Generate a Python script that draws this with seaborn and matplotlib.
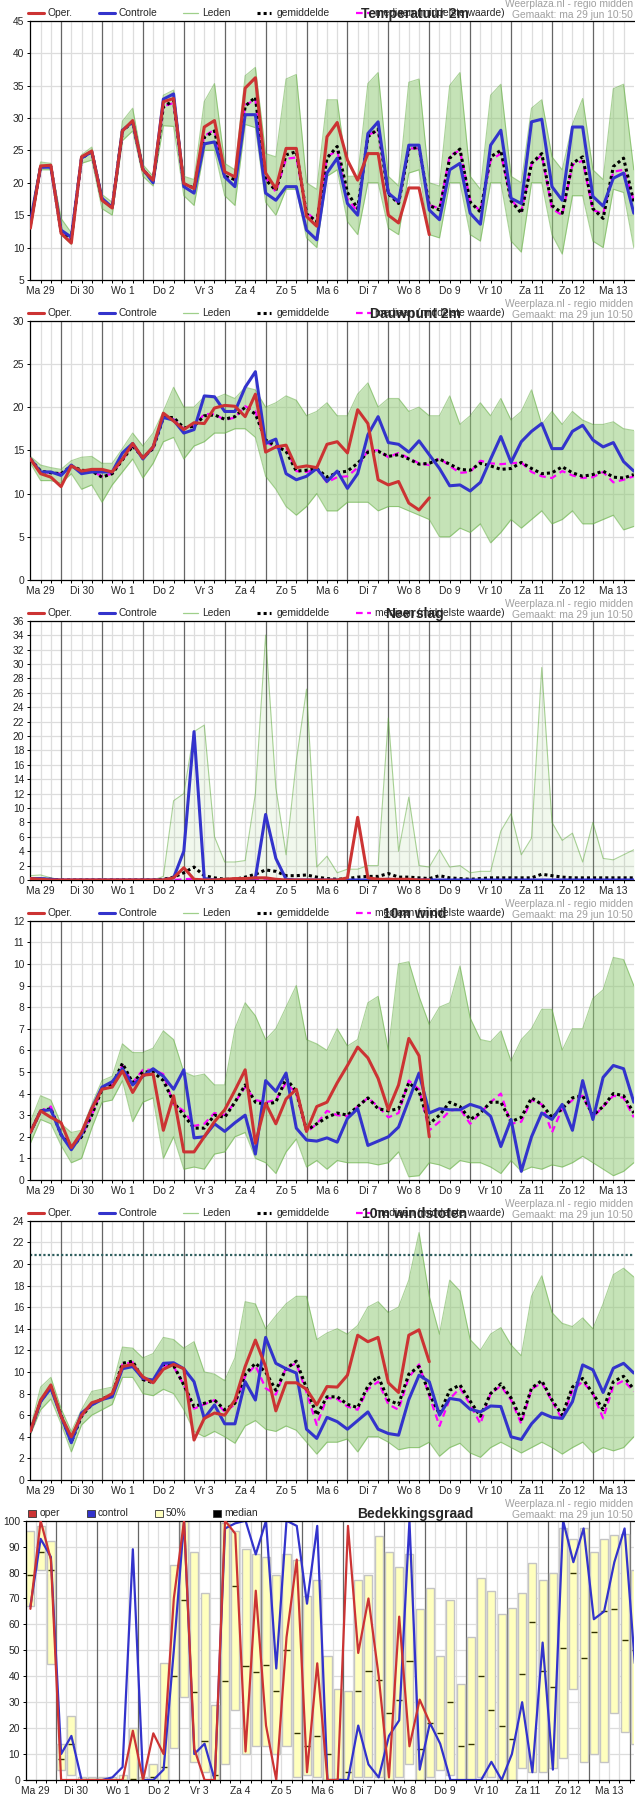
import numpy as np
import matplotlib
matplotlib.use("Agg")
import matplotlib.pyplot as plt
from matplotlib.lines import Line2D
from matplotlib.patches import Rectangle
import seaborn as sns

sns.set_style("white")
plt.rcParams['font.family'] = ['Liberation Sans', 'DejaVu Sans']

# --- data -------------------------------------------------------------
dagen = ["Ma 29", "Di 30", "Wo 1", "Do 2", "Vr 3", "Za 4", "Zo 5", "Ma 6",
         "Di 7", "Wo 8", "Do 9", "Vr 10", "Za 11", "Zo 12", "Ma 13"]

# temperatuur 2m (6-uurlijks, vanaf ma 29 06u)
temp_oper = [13.0, 22.6, 22.7, 12.2, 10.7, 24.0, 24.9, 17.3, 16.1, 28.0,
             29.6, 22.0, 20.4, 32.5, 33.0, 19.9, 19.1, 28.6, 29.6, 21.7,
             20.9, 34.6, 36.2, 21.5, 19.1, 25.3, 25.3, 14.8, 13.3, 27.1,
             29.3, 23.5, 20.4, 24.5, 24.5, 15.0, 13.8, 19.2, 19.2, 12.0]
temp_ctrl = [14.0, 22.4, 22.4, 12.7, 11.6, 23.8, 24.8, 17.6, 16.2, 28.1,
             29.4, 22.1, 20.0, 32.9, 33.7, 19.4, 18.4, 26.0, 26.3, 20.9,
             19.4, 30.5, 30.5, 18.4, 17.3, 19.4, 19.4, 12.7, 11.2, 21.5,
             23.8, 16.8, 15.0, 27.6, 29.4, 18.4, 17.1, 25.8, 25.8, 15.8,
             14.3, 22.0, 23.0, 15.3, 13.6, 25.8, 28.1, 17.6, 16.8, 29.4,
             29.8, 19.4, 17.3, 28.6, 28.6, 17.9, 16.4, 20.7, 21.5, 15.3]
temp_gem = [13.5, 22.5, 22.5, 12.5, 11.3, 23.8, 24.8, 17.4, 16.2, 28.0,
            29.4, 22.0, 20.3, 31.7, 32.7, 19.8, 19.2, 27.0, 28.0, 21.0,
            20.5, 31.8, 33.2, 20.5, 18.8, 24.3, 24.8, 15.2, 14.0, 23.8,
            25.6, 18.5, 16.0, 27.1, 28.3, 18.3, 16.8, 25.2, 25.5, 16.5,
            15.8, 23.8, 25.2, 17.0, 15.5, 24.0, 25.0, 17.2, 15.3, 23.0,
            24.5, 16.5, 15.3, 23.0, 24.0, 16.0, 14.5, 22.5, 23.8, 17.0]
temp_med = [13.5, 22.4, 22.4, 12.5, 11.3, 23.8, 24.8, 17.4, 16.2, 28.0,
            29.4, 22.0, 20.5, 31.8, 32.3, 19.8, 19.2, 27.2, 28.2, 21.0,
            20.4, 32.0, 32.8, 20.8, 18.6, 23.7, 23.9, 15.5, 14.0, 24.0,
            25.0, 17.5, 15.6, 27.4, 28.0, 18.6, 16.8, 25.3, 25.3, 16.6,
            16.0, 24.2, 25.0, 17.2, 15.6, 23.5, 24.5, 17.4, 15.6, 22.8,
            24.3, 16.0, 15.0, 22.8, 23.4, 15.8, 15.2, 21.7, 22.0, 17.3]
temp_hoog = [15.0, 23.2, 23.0, 14.5, 12.3, 24.3, 25.5, 18.2, 17.0, 29.5,
             31.5, 22.8, 21.0, 33.5, 34.3, 21.0, 20.5, 32.5, 35.3, 23.0,
             22.0, 36.5, 37.8, 24.5, 24.0, 36.0, 36.7, 20.0, 19.0, 32.8,
             32.8, 21.0, 21.0, 35.3, 37.0, 21.0, 19.5, 35.5, 36.0, 20.0,
             19.5, 35.0, 37.0, 21.0, 19.0, 33.5, 35.2, 21.0, 20.0, 31.5,
             32.8, 24.0, 22.0, 29.0, 33.0, 22.0, 20.5, 34.5, 35.2, 22.0]
temp_laag = [13.0, 22.0, 22.0, 12.0, 10.5, 23.0, 23.5, 16.0, 15.0, 26.5,
             28.0, 21.0, 19.5, 28.8, 28.7, 18.0, 16.5, 25.0, 25.0, 18.0,
             16.5, 29.0, 28.5, 17.0, 15.0, 19.0, 19.0, 11.5, 10.0, 21.0,
             22.0, 14.0, 12.0, 20.0, 20.0, 13.0, 12.0, 21.5, 22.0, 12.0,
             11.5, 20.0, 20.0, 12.0, 11.0, 20.0, 20.0, 11.0, 9.3, 20.0,
             20.0, 12.0, 9.0, 18.0, 18.0, 11.0, 10.0, 19.0, 18.5, 10.0]

# dauwpunt 2m
dauw_oper = [14.0, 12.3, 11.9, 10.8, 13.2, 12.6, 12.8, 12.8, 12.5, 14.0,
             15.8, 14.1, 15.4, 19.3, 18.4, 17.4, 18.2, 18.1, 19.9, 20.2,
             20.1, 18.9, 21.5, 14.8, 15.4, 15.6, 13.0, 13.2, 13.0, 15.7,
             16.0, 14.7, 19.7, 18.1, 11.6, 11.0, 11.4, 8.9, 8.1, 9.5]
dauw_ctrl = [14.0, 12.5, 12.5, 12.1, 13.3, 12.3, 12.5, 12.5, 12.5, 14.7,
             15.8, 14.0, 15.4, 18.8, 18.5, 17.0, 17.4, 21.3, 21.2, 19.5,
             19.5, 22.3, 24.1, 15.8, 16.3, 12.3, 11.6, 12.0, 12.9, 11.4,
             12.6, 10.6, 12.3, 16.8, 18.9, 15.9, 15.7, 14.8, 16.1, 14.5,
             12.9, 10.9, 11.0, 10.3, 11.3, 14.0, 16.6, 13.6, 16.0, 17.2,
             18.1, 15.2, 15.2, 17.2, 17.9, 16.2, 15.4, 15.9, 13.7, 12.6]
dauw_gem = [14.0, 12.6, 12.4, 12.3, 13.2, 12.7, 12.6, 11.9, 12.3, 13.9,
            15.5, 14.2, 15.2, 18.8, 18.8, 17.6, 17.8, 19.0, 19.1, 18.6,
            18.9, 20.0, 19.2, 16.2, 15.5, 14.9, 12.6, 12.7, 12.9, 11.9,
            12.4, 12.6, 13.5, 14.8, 14.9, 14.3, 14.5, 14.0, 13.4, 13.5,
            14.0, 13.4, 12.8, 12.7, 13.5, 13.2, 12.8, 12.9, 13.6, 12.9,
            12.3, 12.4, 13.1, 12.4, 12.0, 12.2, 12.6, 11.9, 11.8, 12.2]
dauw_med = [14.0, 12.5, 12.4, 12.3, 13.2, 12.5, 12.6, 12.0, 12.3, 13.9,
            15.5, 14.2, 15.2, 18.9, 18.6, 17.5, 17.8, 19.2, 19.2, 18.5,
            18.8, 20.1, 19.5, 16.0, 15.3, 15.3, 12.6, 12.5, 12.8, 11.3,
            11.9, 12.0, 13.0, 15.0, 15.0, 14.2, 14.7, 14.1, 13.5, 13.3,
            14.1, 13.2, 12.4, 12.5, 13.8, 13.5, 13.4, 13.5, 13.6, 12.5,
            12.0, 11.8, 12.6, 12.1, 11.8, 11.9, 12.5, 11.3, 11.6, 12.0]
dauw_hoog = [14.3, 13.3, 13.0, 12.8, 13.8, 14.2, 14.3, 13.5, 13.5, 15.2,
             17.0, 15.5, 17.0, 19.5, 22.3, 20.0, 20.0, 21.2, 21.0, 21.5,
             21.0, 22.3, 22.0, 20.0, 20.5, 21.3, 20.8, 19.0, 19.5, 20.5,
             19.0, 19.0, 21.5, 22.8, 20.0, 21.0, 21.0, 19.5, 20.0, 19.0,
             19.0, 21.3, 18.0, 19.0, 20.5, 19.0, 21.0, 18.5, 19.5, 22.0,
             18.0, 19.5, 18.0, 19.5, 18.5, 18.0, 18.0, 18.3, 17.5, 17.3]
dauw_laag = [13.5, 11.5, 11.5, 11.2, 12.3, 10.5, 11.0, 9.0, 11.0, 12.5,
             14.0, 11.8, 13.5, 16.0, 16.5, 14.0, 15.5, 16.0, 17.0, 17.0,
             17.5, 17.5, 16.5, 12.0, 10.5, 8.5, 7.5, 8.5, 10.0, 8.0,
             8.0, 9.0, 9.0, 9.0, 8.0, 8.5, 8.5, 8.0, 7.5, 7.0,
             5.0, 5.0, 6.0, 5.5, 6.5, 4.3, 5.5, 7.0, 6.0, 7.0,
             8.0, 6.5, 7.0, 8.0, 6.5, 6.5, 7.0, 7.5, 5.8, 6.2]

# neerslag (mm per 6 uur)
regen_oper = [0.2, 0.1, 0, 0, 0, 0, 0, 0, 0, 0,
              0, 0, 0, 0, 0.3, 1.7, 0.1, 0, 0, 0.1,
              0.2, 0.2, 0.3, 0.3, 0.1, 0, 0, 0, 0, 0,
              0, 0.3, 8.7, 0.3, 0.1, 0.1, 0.1, 0.1, 0, 0]
regen_ctrl = [0.2, 0.2, 0.1, 0, 0, 0, 0, 0, 0, 0,
              0, 0, 0, 0, 0.3, 4.0, 20.6, 0.2, 0, 0,
              0, 0, 0.3, 9.1, 3.0, 0.1, 0, 0, 0, 0,
              0, 0, 0, 0, 0, 0.1, 0, 0, 0, 0,
              0, 0, 0, 0, 0, 0, 0, 0, 0, 0,
              0, 0, 0, 0, 0, 0, 0, 0, 0, 0]
regen_gem = [0.1, 0.1, 0.1, 0, 0, 0, 0, 0, 0, 0,
             0, 0, 0, 0.1, 0.4, 1.0, 1.8, 0.6, 0.3, 0.1,
             0.1, 0.4, 0.8, 1.4, 1.2, 0.6, 0.6, 0.7, 0.4, 0.2,
             0.1, 0.2, 0.4, 0.5, 0.5, 0.9, 0.4, 0.4, 0.3, 0.2,
             0.6, 0.3, 0.2, 0.1, 0.2, 0.3, 0.3, 0.3, 0.3, 0.3,
             0.8, 0.6, 0.4, 0.3, 0.3, 0.3, 0.3, 0.3, 0.3, 0.3]
regen_med = [0.1, 0.1, 0, 0, 0, 0, 0, 0, 0, 0,
             0, 0, 0, 0, 0, 0.1, 0.2, 0, 0, 0,
             0, 0, 0.1, 0.2, 0.1, 0, 0, 0, 0, 0,
             0, 0, 0, 0, 0, 0, 0, 0, 0, 0,
             0, 0, 0, 0, 0, 0, 0, 0, 0, 0,
             0, 0, 0, 0, 0, 0, 0, 0, 0, 0]
regen_hoog = [0.6, 0.7, 0.3, 0, 0, 0, 0, 0, 0, 0,
              0, 0, 0, 0.5, 11.0, 12.0, 20.6, 21.5, 6.0, 2.5,
              2.5, 2.7, 12.0, 34.0, 12.8, 3.5, 16.5, 26.5, 1.8, 3.3,
              1.0, 1.5, 1.5, 2.0, 2.0, 22.5, 4.0, 11.5, 2.0, 1.8,
              4.2, 1.8, 2.0, 1.0, 1.2, 1.2, 6.8, 9.2, 3.5, 5.8,
              29.5, 8.0, 5.5, 6.5, 2.5, 8.0, 3.0, 2.8, 3.5, 4.2]
regen_laag = [0.0] * 60

# 10m wind (Bft)
wind_oper = [2.2, 3.2, 2.9, 2.65, 1.5, 2.2, 3.3, 4.2, 4.3, 5.05,
             4.05, 4.85, 4.9, 2.3, 3.9, 1.3, 1.3, 2.0, 2.7, 3.25,
             4.15, 5.1, 1.7, 3.55, 2.6, 3.75, 4.2, 2.25, 3.4, 3.6,
             4.5, 5.3, 6.15, 5.65, 4.7, 3.25, 4.4, 6.55, 5.75, 2.0]
wind_ctrl = [2.2, 3.2, 3.25, 2.1, 1.4, 2.1, 3.3, 4.3, 4.55, 5.15,
             4.4, 4.8, 5.15, 4.8, 4.2, 5.1, 1.95, 2.0, 2.6, 2.25,
             2.65, 3.0, 1.2, 4.6, 4.1, 4.95, 2.4, 1.85, 1.8, 1.95,
             1.75, 2.85, 3.3, 1.6, 1.8, 2.0, 2.45, 3.7, 4.95, 3.1,
             3.3, 3.25, 3.25, 3.5, 3.35, 2.95, 1.55, 2.8, 0.4, 2.0,
             3.1, 2.8, 3.5, 2.3, 4.6, 2.8, 4.75, 5.3, 5.15, 3.6]
wind_gem = [2.2, 3.2, 3.3, 2.1, 1.5, 2.0, 3.0, 4.2, 4.4, 5.4,
            4.5, 5.0, 5.0, 4.6, 3.6, 3.0, 2.4, 2.4, 3.0, 2.9,
            3.6, 4.4, 3.6, 3.5, 3.6, 4.7, 4.1, 2.3, 2.6, 2.9,
            3.1, 3.0, 3.4, 3.8, 3.3, 3.2, 3.3, 4.5, 4.1, 2.6,
            3.0, 3.6, 3.4, 2.8, 3.1, 3.6, 3.6, 2.7, 2.9, 3.8,
            3.5, 2.9, 3.3, 3.8, 3.9, 3.0, 3.4, 4.0, 3.9, 3.1]
wind_med = [2.2, 3.2, 3.4, 2.1, 1.5, 2.0, 3.0, 4.2, 4.4, 5.3,
            4.5, 5.1, 5.1, 4.9, 3.5, 3.2, 2.5, 2.6, 3.1, 3.0,
            3.6, 4.3, 3.7, 3.6, 3.7, 4.5, 4.0, 2.2, 2.6, 3.2,
            3.0, 2.95, 3.4, 3.8, 3.4, 2.9, 3.1, 4.6, 4.2, 2.3,
            2.7, 3.2, 3.3, 2.6, 3.1, 3.6, 4.0, 2.6, 2.7, 3.7,
            3.5, 2.2, 3.3, 3.7, 3.9, 2.9, 3.4, 3.9, 3.8, 2.9]
wind_hoog = [2.7, 3.9, 3.7, 2.6, 2.2, 2.3, 3.5, 4.6, 4.8, 6.3,
             5.9, 5.9, 6.1, 6.9, 6.5, 5.0, 4.8, 4.9, 4.4, 4.4,
             7.0, 8.2, 7.6, 6.5, 7.0, 8.0, 9.0, 6.5, 6.3, 6.0,
             7.0, 6.2, 6.5, 8.2, 8.5, 6.0, 10.0, 10.1, 8.5, 7.2,
             8.0, 8.2, 9.9, 7.5, 6.5, 6.4, 6.9, 5.5, 6.5, 7.0,
             7.9, 7.9, 6.0, 7.0, 7.0, 8.4, 8.8, 10.3, 10.2, 9.0]
wind_laag = [1.7, 2.8, 2.6, 1.6, 0.8, 1.0, 2.4, 3.6, 3.7, 4.6,
             2.7, 3.6, 3.8, 1.0, 2.0, 0.5, 0.6, 0.5, 1.2, 1.3,
             2.0, 2.2, 1.0, 0.8, 0.3, 1.3, 1.9, 0.6, 0.9, 0.5,
             0.9, 0.8, 0.8, 0.8, 0.7, 0.8, 1.3, 0.15, 0.2, 0.8,
             0.7, 0.5, 0.9, 0.8, 0.8, 0.6, 0.3, 0.9, 0.4, 0.6,
             0.5, 0.7, 0.6, 0.8, 1.1, 0.8, 0.5, 0.2, 0.4, 0.8]

# 10m windstoten (m/s)
stoot_oper = [4.5, 7.4, 8.8, 5.9, 4.0, 6.0, 7.15, 7.45, 8.0, 10.5,
              10.7, 9.55, 9.0, 10.25, 10.7, 10.3, 3.7, 5.7, 6.2, 6.0,
              7.4, 10.5, 12.95, 10.5, 6.4, 9.0, 9.0, 8.4, 6.95, 8.65,
              8.6, 9.7, 13.4, 12.8, 13.2, 9.0, 8.1, 13.4, 13.9, 10.95]
stoot_ctrl = [4.5, 7.25, 8.5, 5.9, 3.45, 6.2, 6.95, 7.45, 7.7, 10.3,
              10.5, 9.4, 9.25, 10.8, 10.85, 10.3, 9.1, 5.7, 6.95, 5.2,
              5.2, 9.1, 7.4, 13.2, 10.8, 10.3, 9.9, 4.7, 3.85, 5.8,
              5.4, 4.7, 5.5, 6.3, 4.7, 4.3, 4.15, 7.45, 9.7, 9.1,
              6.0, 7.55, 7.4, 6.55, 6.3, 6.85, 6.8, 4.0, 3.75, 5.2,
              6.2, 5.8, 5.7, 7.25, 10.65, 10.2, 8.1, 10.35, 10.8, 9.9]
stoot_gem = [4.5, 7.3, 8.6, 6.0, 3.5, 5.9, 7.0, 7.5, 7.9, 10.8,
             11.0, 9.3, 9.0, 10.7, 10.6, 8.8, 6.8, 7.1, 7.4, 6.5,
             7.1, 9.8, 10.8, 10.0, 8.3, 10.3, 11.0, 8.5, 6.0, 7.7,
             7.7, 7.0, 6.7, 8.7, 9.6, 7.4, 7.0, 9.8, 10.5, 8.0,
             6.1, 8.3, 8.8, 7.3, 5.9, 8.0, 8.9, 7.6, 5.6, 8.5,
             9.2, 7.4, 6.0, 8.6, 9.4, 8.0, 6.5, 9.1, 9.6, 8.4]
stoot_med = [4.5, 7.3, 8.6, 6.0, 3.5, 5.9, 7.0, 7.5, 7.9, 10.7,
             10.9, 9.3, 9.0, 10.6, 10.5, 8.8, 6.6, 7.0, 7.4, 6.3,
             7.0, 9.6, 10.6, 8.5, 7.9, 10.4, 10.8, 8.1, 5.1, 7.6,
             7.5, 6.8, 6.5, 8.4, 9.1, 7.0, 6.5, 9.5, 10.7, 7.8,
             5.0, 7.5, 8.5, 7.0, 5.2, 8.0, 8.7, 7.4, 5.2, 8.4,
             9.0, 7.3, 5.6, 8.3, 9.1, 8.0, 5.7, 8.7, 9.2, 8.2]
stoot_hoog = [4.8, 8.6, 9.5, 6.6, 4.5, 6.5, 8.2, 8.4, 8.6, 12.3,
              12.2, 11.3, 11.7, 13.2, 13.0, 12.2, 12.8, 10.0, 9.8, 9.2,
              11.3, 16.5, 16.3, 14.0, 15.2, 16.3, 17.0, 17.0, 13.0, 13.6,
              14.0, 13.5, 14.3, 16.0, 16.5, 15.5, 16.0, 18.5, 22.9, 17.0,
              13.5, 18.5, 17.5, 13.0, 12.0, 13.5, 14.1, 12.5, 11.5, 17.0,
              18.9, 15.5, 14.5, 14.2, 15.0, 14.0, 16.3, 19.0, 19.6, 18.8]
stoot_laag = [4.2, 6.5, 7.5, 5.2, 2.6, 5.1, 6.0, 6.5, 7.0, 9.5,
              9.5, 8.0, 7.8, 8.4, 8.0, 6.5, 4.5, 4.0, 4.5, 4.0,
              3.4, 5.0, 5.5, 4.7, 4.5, 5.0, 4.6, 3.5, 2.4, 3.5,
              3.5, 3.8, 2.6, 4.0, 4.0, 3.5, 2.8, 3.0, 3.0, 3.5,
              2.2, 3.0, 3.4, 2.5, 2.1, 3.0, 3.5, 3.0, 2.5, 3.0,
              3.5, 3.0, 2.4, 3.0, 3.5, 2.5, 3.0, 2.7, 3.0, 4.0]
stoot_grens = 20.8

# bedekkingsgraad (%), 6-uurlijks vanaf ma 29 09u
wolk_oper = [66, 100, 85, 0, 0, 0, 0, 0, 0, 0,
             19, 0, 18, 10, 70, 100, 12, 0, 0, 100,
             95, 11, 73, 21, 0, 55, 85, 3, 45, 0,
             0, 98, 49, 70, 40, 1, 63, 13, 31, 22]
wolk_ctrl = [67, 93, 86, 10, 17, 0, 0, 0, 1, 5,
             89, 0, 0, 4, 50, 100, 10, 14, 0, 97,
             99, 100, 87, 100, 43, 100, 98, 68, 98, 0,
             0, 0, 21, 6, 1, 17, 23, 100, 4, 22,
             14, 0, 0, 0, 0, 7, 0, 10, 30, 3,
             53, 4, 100, 84, 97, 62, 65, 84, 97, 45]
wolk_p25 = [67, 81, 44.7, 4, 2, 0, 0, 0, 0, 0,
            0, 0, 0, 0, 12.5, 32, 7, 3, 0, 6,
            27, 10, 13, 13, 10, 13, 1, 2, 1, 0,
            0, 0, 1, 1, 1, 0, 1, 6, 0, 1,
            4, 2, 0, 0, 1, 1, 0, 0, 4.5, 3,
            3, 4.5, 8.5, 35, 7, 10, 7, 26, 18.5, 14]
wolk_p75 = [96, 98, 92, 14, 24.5, 1, 1, 1, 1, 2,
            20, 1, 6, 45, 83, 100, 88, 72, 29, 99,
            96, 89, 87, 86, 79, 87, 85, 71, 77, 48,
            35, 34.5, 77, 79, 94, 88, 82, 87, 66, 74,
            48, 69.5, 37, 55, 78, 73, 64, 66.5, 72, 83.5,
            77, 80, 97, 93, 97, 88, 93, 94.5, 95, 81]
wolk_med = [79, 88, 81, 8, 14, 0, 0, 0, 0, 0,
            0.5, 0, 1, 5, 40, 69.5, 34, 15, 2, 38,
            75, 44, 41.5, 44.5, 34.5, 50, 18, 13, 17, 10,
            0.5, 3, 34.5, 42, 38.5, 26, 31, 46, 12, 22,
            18, 30, 13, 14, 40, 27, 21, 16, 41, 61,
            42, 36, 51, 80, 47, 57, 65, 66, 54, 50]

# --- layout -----------------------------------------------------------
W, H = 635, 1800
RED, BLUE, MAG = '#cc3333', '#3333cc', '#ff00ff'
GREEN = '#5aa836'
FS = 7.4

uren = np.arange(60) * 6 + 6        # uren na ma 29 00:00
uren_wolk = np.arange(60) * 6 + 9

fig = plt.figure(figsize=(W / 100, H / 100), dpi=100)


def fy(y):
    return 1 - y / H


def kop(p, titel):
    y0 = 300 * p
    fig.text(633 / W, fy(y0 + 4), "Weerplaza.nl - regio midden", ha='right', va='center',
             fontsize=FS, color='#a0a0a0')
    fig.text(633 / W, fy(y0 + 15), "Gemaakt: ma 29 jun 10:50", ha='right', va='center',
             fontsize=FS, color='#a0a0a0')
    # titel staat in het origineel over de legenda heen
    fig.text(415 / W, fy(y0 + 14), titel, ha='center', va='center',
             fontsize=10, fontweight='bold')


def tijd_as(ax, xmin, xmax):
    ax.set_xlim(xmin, xmax)
    zes = [u for u in range(0, 372, 6) if xmin < u < xmax]
    for u in zes:
        dag = (u % 24 == 0)
        ax.axvline(u, color='#666666' if dag else '#dddddd', lw=0.9, zorder=0.6 if dag else 0.5)
    ax.set_xticks(zes)
    ax.set_xticklabels([dagen[u // 24] if u % 24 == 12 else '' for u in zes])
    ax.tick_params(axis='both', direction='out', length=2.5, width=0.7, color='black',
                   labelsize=FS, pad=2, bottom=True, left=True)
    ax.grid(axis='y', color='#dddddd', lw=0.9)
    ax.set_axisbelow(True)
    for s in ['left', 'bottom', 'top']:
        ax.spines[s].set_color('black')
        ax.spines[s].set_linewidth(0.9)
    ax.spines['right'].set_visible(False)
    ax.set_xlabel('')
    ax.set_ylabel('')


def lijnpaneel(p, titel, oper, ctrl, gem, med, hoog, laag, yticks, grens=None, band_alpha=0.5):
    top = 20.7 + 300 * p
    ax = fig.add_axes([30.4 / W, fy(top + 259.3), 603.4 / W, 259.3 / H])
    ax.fill_between(uren, laag, hoog, color='#8cc870', alpha=band_alpha, lw=0, zorder=1)
    sns.lineplot(x=uren, y=hoog, ax=ax, color=GREEN, lw=0.8, alpha=0.5, zorder=1.2)
    sns.lineplot(x=uren, y=laag, ax=ax, color=GREEN, lw=0.8, alpha=0.5, zorder=1.2)
    if grens is not None:
        ax.axhline(grens, color='#2f5f5f', lw=1.6, ls=(0, (1, 1)), zorder=1.5)
    sns.lineplot(x=uren, y=med, ax=ax, color=MAG, lw=1.6, ls=(0, (3, 2)), zorder=2)
    sns.lineplot(x=uren, y=gem, ax=ax, color='black', lw=2.2, ls=(0, (1, 1)), zorder=2.1)
    sns.lineplot(x=uren, y=ctrl, ax=ax, color=BLUE, lw=2.2, zorder=3)
    sns.lineplot(x=uren[:len(oper)], y=oper, ax=ax, color=RED, lw=2.2, zorder=3.1)
    ax.set_ylim(yticks[0], yticks[-1])
    ax.set_yticks(yticks)
    tijd_as(ax, 6, 360)

    # legenda
    y = fy(300 * p + 13.3)
    items = [(28.3, 43.7, RED, 2.2, '-', 47.8, "Oper."),
             (99.2, 115.4, BLUE, 2.2, '-', 118.7, "Controle"),
             (183.0, 198.4, '#9fd08a', 0.9, '-', 202.5, "Leden"),
             (257.0, 271.0, 'black', 2.2, (0, (1, 1)), 276.6, "gemiddelde"),
             (355.5, 370.5, MAG, 1.6, (0, (3, 2)), 374.6, "mediaan (middelste waarde)")]
    for x0, x1, c, lw, ls, xt, t in items:
        fig.add_artist(Line2D([x0 / W, x1 / W], [y, y], transform=fig.transFigure,
                              color=c, lw=lw, ls=ls))
        fig.text(xt / W, y, t, ha='left', va='center', fontsize=FS)
    kop(p, titel)
    return ax


lijnpaneel(0, "Temperatuur 2m", temp_oper, temp_ctrl, temp_gem, temp_med,
           temp_hoog, temp_laag, list(range(5, 46, 5)))
lijnpaneel(1, "Dauwpunt 2m", dauw_oper, dauw_ctrl, dauw_gem, dauw_med,
           dauw_hoog, dauw_laag, list(range(0, 31, 5)))
lijnpaneel(2, "Neerslag", regen_oper, regen_ctrl, regen_gem, regen_med,
           regen_hoog, regen_laag, list(range(0, 37, 2)), band_alpha=0.12)
lijnpaneel(3, "10m wind", wind_oper, wind_ctrl, wind_gem, wind_med,
           wind_hoog, wind_laag, list(range(0, 13)))
lijnpaneel(4, "10m windstoten", stoot_oper, stoot_ctrl, stoot_gem, stoot_med,
           stoot_hoog, stoot_laag, list(range(0, 25, 2)), grens=stoot_grens)

# --- bedekkingsgraad --------------------------------------------------
top = 20.7 + 1500
ax = fig.add_axes([26.3 / W, fy(top + 259.3), 607.5 / W, 259.3 / H])
p25 = np.array(wolk_p25)
p75 = np.array(wolk_p75)
ax.bar(uren_wolk, p75 - p25, bottom=p25, width=4.7, color='#ffffbe',
       edgecolor='#c4c4c4', linewidth=1.0, zorder=1)
ax.hlines(wolk_med, uren_wolk - 1.8, uren_wolk + 1.8, color='#333300', lw=1.0, zorder=1.5)
sns.lineplot(x=uren_wolk, y=wolk_ctrl, ax=ax, color=BLUE, lw=1.6, zorder=2)
sns.lineplot(x=uren_wolk[:len(wolk_oper)], y=wolk_oper, ax=ax, color=RED, lw=1.6, zorder=3)
ax.set_ylim(0, 100)
ax.set_yticks(range(0, 101, 10))
tijd_as(ax, 6.6, 362.4)

y = fy(1500 + 13.3)
for x0, c, xt, t in [(28.0, RED, 39.7, "oper"), (87.0, BLUE, 98.0, "control"),
                     (155.0, '#ffffbe', 166.0, "50%"), (213.0, 'black', 224.7, "median")]:
    fig.add_artist(Rectangle((x0 / W, y - 3.6 / H), 7.5 / W, 7.2 / H, transform=fig.transFigure,
                             facecolor=c, edgecolor='#333333', lw=0.6))
    fig.text(xt / W, y, t, ha='left', va='center', fontsize=FS)
kop(5, "Bedekkingsgraad")

fig.savefig("out.png", dpi=100)
